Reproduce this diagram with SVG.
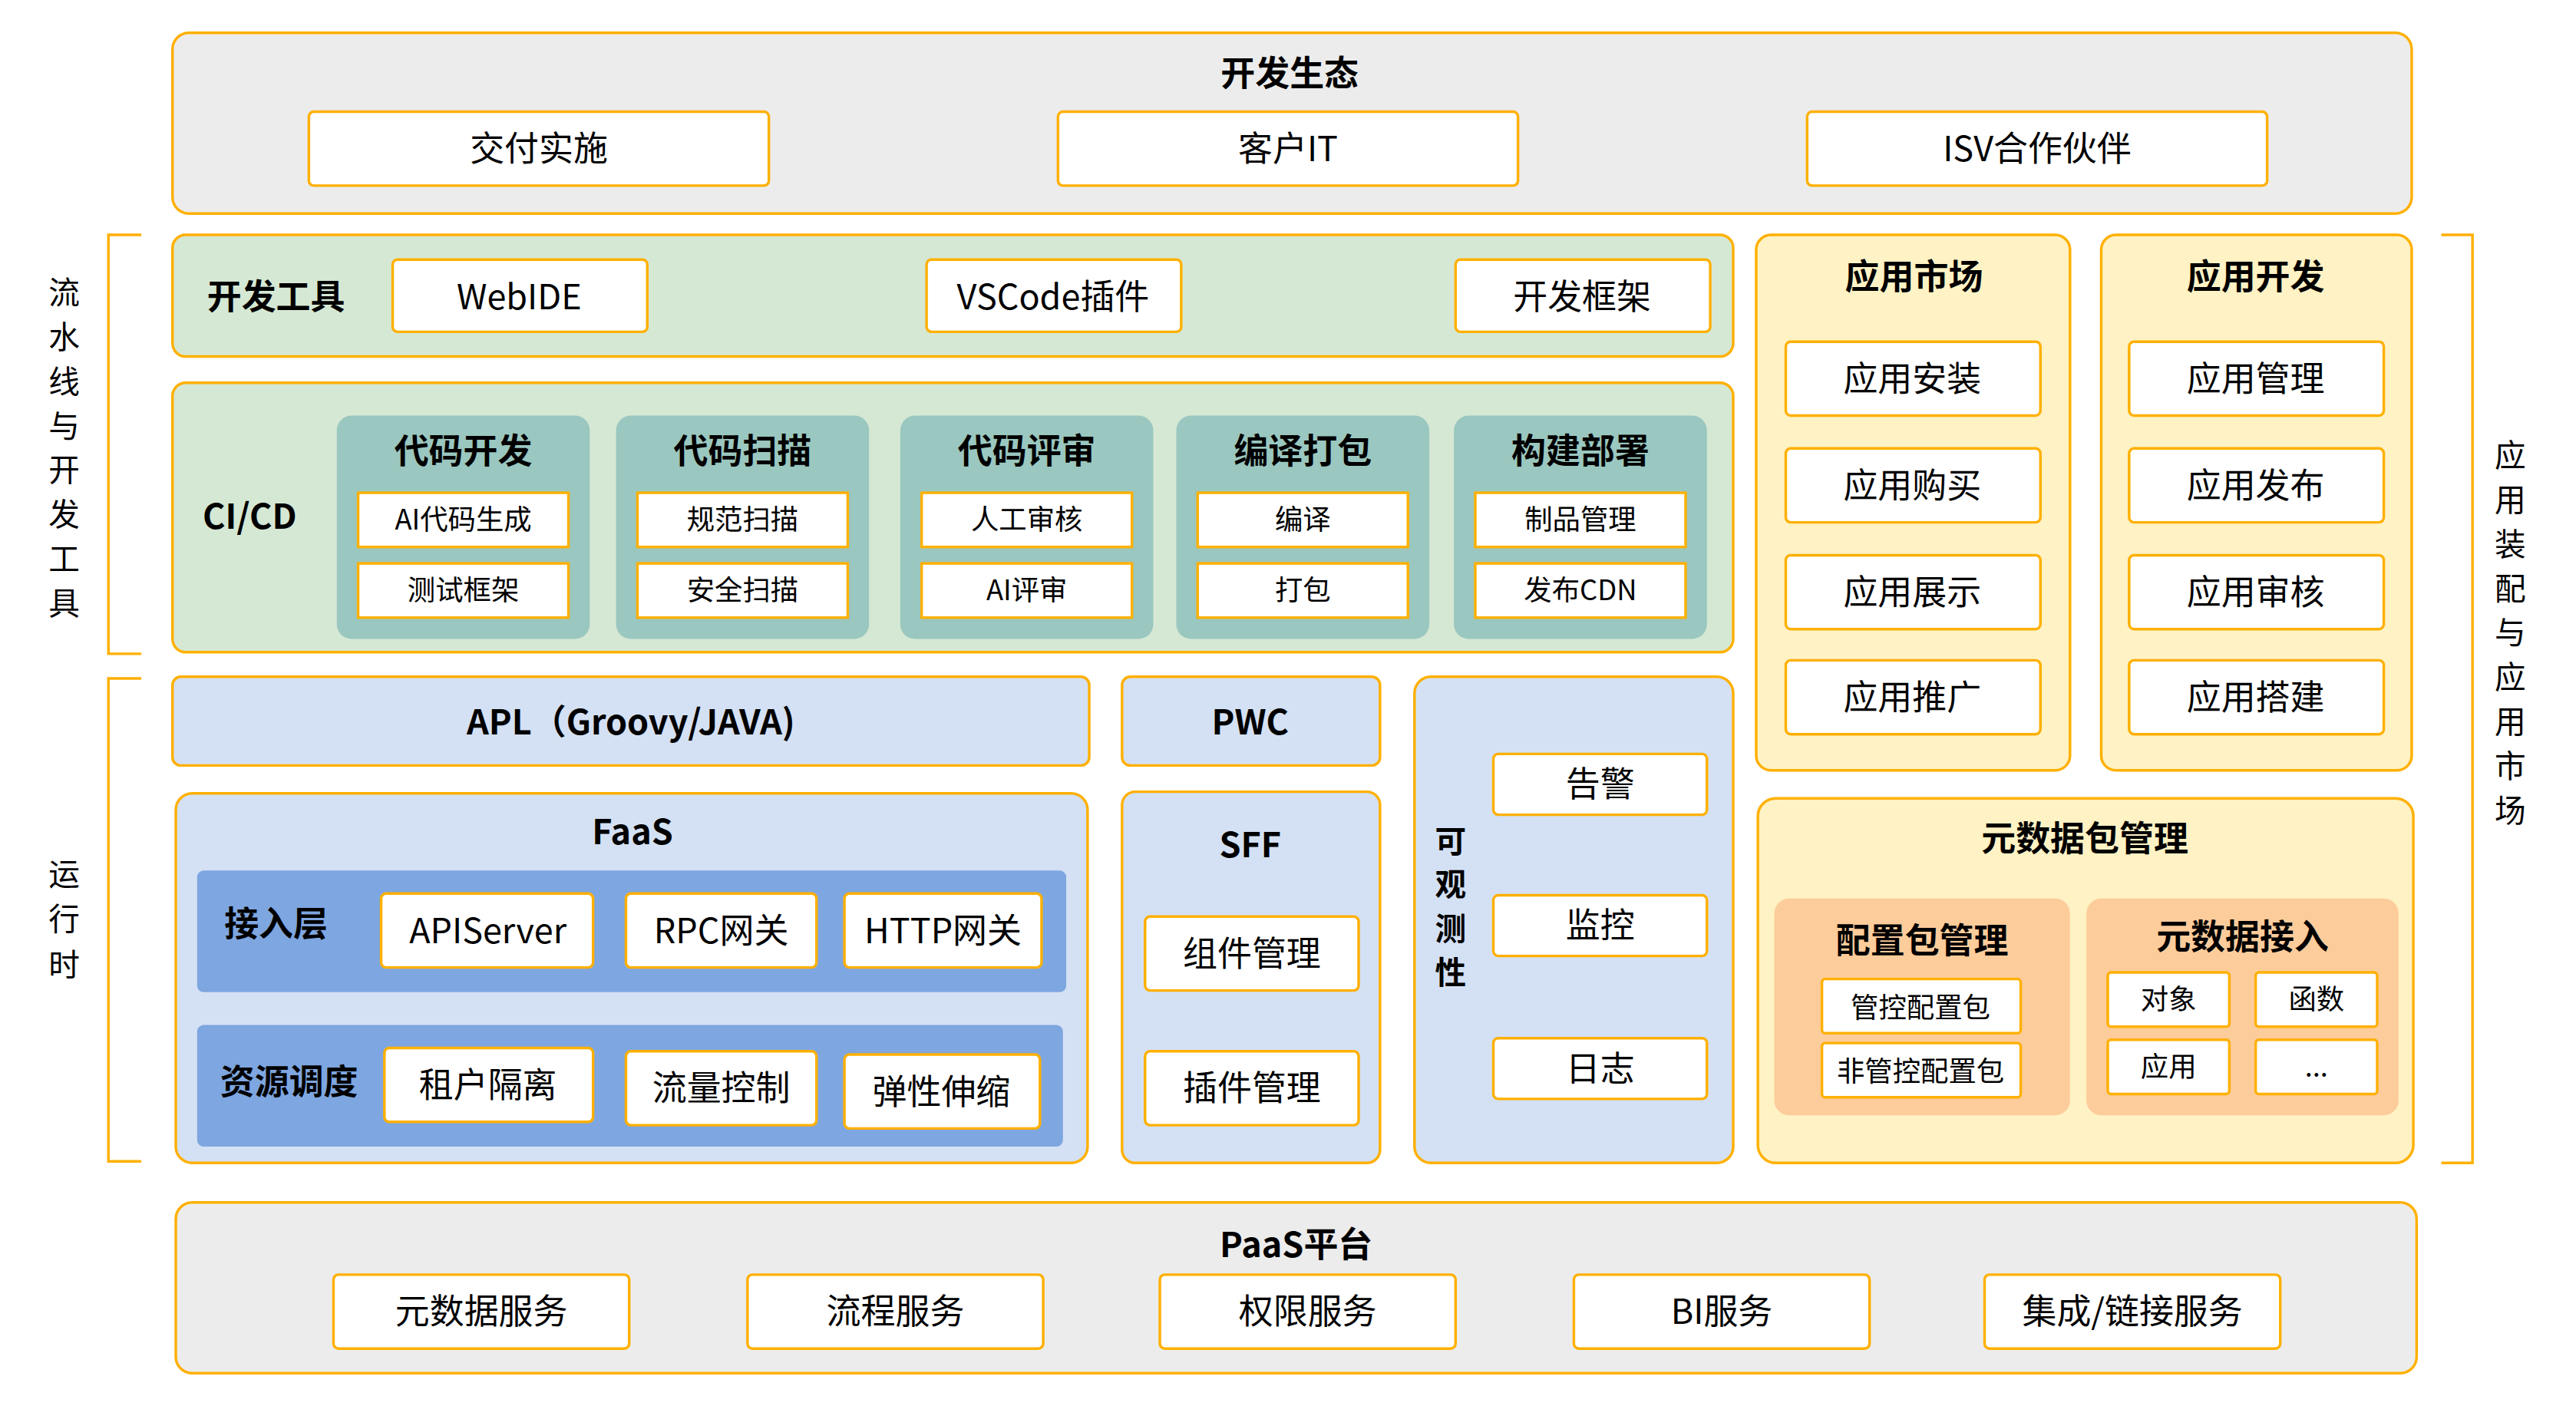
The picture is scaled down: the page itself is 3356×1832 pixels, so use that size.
<svg xmlns="http://www.w3.org/2000/svg" width="3356" height="1832" viewBox="0 0 3356 1832">
<style>
text{font-family:"Noto Sans CJK SC","Liberation Sans",sans-serif;text-anchor:middle;dominant-baseline:central;fill:#000}
.b{font-weight:bold;font-size:21px}
.t{font-size:21px}
.v{font-size:19px}
.vb{font-weight:bold;font-size:19px}
.s{font-size:17px}
rect{stroke:#ffb000;stroke-width:1.6}
.bg{fill:#fff;stroke:none}
.w{fill:#fff}
.g{fill:#ececec}
.gr{fill:#d5e8d4}
.bl{fill:#d4e1f4}
.y{fill:#fff2c4}
.tl{fill:#9ac7bf;stroke:none}
.db{fill:#7ea6e0;stroke:none}
.or{fill:#fdcc9b;stroke:none}
.br{fill:none;stroke:#ffb000;stroke-width:1.6}
</style>
<rect class="bg" x="0" y="0" width="3356" height="1832"/>
<g transform="scale(2.1403)">
<g id="brackets">
<path class="br" d="M86 143H66V398H86"/>
<path class="br" d="M86 413H66V707H86"/>
<path class="br" d="M1486 143H1505V708H1486"/>
<g class="v">
<text x="39" y="177">流</text><text x="39" y="204">水</text><text x="39" y="231">线</text><text x="39" y="258">与</text><text x="39" y="285">开</text><text x="39" y="312">发</text><text x="39" y="339">工</text><text x="39" y="366">具</text>
<text x="39" y="531">运</text><text x="39" y="558">行</text><text x="39" y="586">时</text>
<text x="1528" y="276">应</text><text x="1528" y="303">用</text><text x="1528" y="330">装</text><text x="1528" y="357">配</text><text x="1528" y="384">与</text><text x="1528" y="411">应</text><text x="1528" y="438">用</text><text x="1528" y="465">市</text><text x="1528" y="492">场</text>
</g>
</g>
<g id="eco">
<rect class="g" x="105" y="20" width="1363" height="110" rx="10"/>
<text class="b" x="785" y="43">开发生态</text>
<rect class="w" x="188" y="68" width="280" height="45" rx="3"/><text class="t" x="328" y="89">交付实施</text>
<rect class="w" x="644" y="68" width="280" height="45" rx="3"/><text class="t" x="784" y="89">客户IT</text>
<rect class="w" x="1100" y="68" width="280" height="45" rx="3"/><text class="t" x="1240" y="89">ISV合作伙伴</text>
</g>
<g id="devtools">
<rect class="gr" x="105" y="143" width="950" height="74" rx="8"/>
<text class="b" x="168" y="179">开发工具</text>
<rect class="w" x="239" y="158" width="155" height="44" rx="3"/><text class="t" x="316" y="179">WebIDE</text>
<rect class="w" x="564" y="158" width="155" height="44" rx="3"/><text class="t" x="641" y="179">VSCode插件</text>
<rect class="w" x="886" y="158" width="155" height="44" rx="3"/><text class="t" x="963" y="179">开发框架</text>
</g>
<g id="cicd">
<rect class="gr" x="105" y="233" width="950" height="164" rx="8"/>
<text class="b" x="152" y="313">CI/CD</text>
<rect class="tl" x="205" y="253" width="154" height="136" rx="9"/>
<rect class="tl" x="375" y="253" width="154" height="136" rx="9"/>
<rect class="tl" x="548" y="253" width="154" height="136" rx="9"/>
<rect class="tl" x="716" y="253" width="154" height="136" rx="9"/>
<rect class="tl" x="885" y="253" width="154" height="136" rx="9"/>
<text class="b" x="282" y="273">代码开发</text><text class="b" x="452" y="273">代码扫描</text><text class="b" x="625" y="273">代码评审</text><text class="b" x="793" y="273">编译打包</text><text class="b" x="962" y="273">构建部署</text>
<rect class="w" x="218" y="300" width="128" height="33"/><text class="s" x="282" y="315">AI代码生成</text>
<rect class="w" x="218" y="343" width="128" height="33"/><text class="s" x="282" y="358">测试框架</text>
<rect class="w" x="388" y="300" width="128" height="33"/><text class="s" x="452" y="315">规范扫描</text>
<rect class="w" x="388" y="343" width="128" height="33"/><text class="s" x="452" y="358">安全扫描</text>
<rect class="w" x="561" y="300" width="128" height="33"/><text class="s" x="625" y="315">人工审核</text>
<rect class="w" x="561" y="343" width="128" height="33"/><text class="s" x="625" y="358">AI评审</text>
<rect class="w" x="729" y="300" width="128" height="33"/><text class="s" x="793" y="315">编译</text>
<rect class="w" x="729" y="343" width="128" height="33"/><text class="s" x="793" y="358">打包</text>
<rect class="w" x="898" y="300" width="128" height="33"/><text class="s" x="962" y="315">制品管理</text>
<rect class="w" x="898" y="343" width="128" height="33"/><text class="s" x="962" y="358">发布CDN</text>
</g>
<g id="apl">
<rect class="bl" x="105" y="412" width="558" height="54" rx="5"/>
<text class="b" x="384" y="438">APL（Groovy/JAVA)</text>
</g>
<g id="pwc">
<rect class="bl" x="683" y="412" width="157" height="54" rx="5"/>
<text class="b" x="761" y="438">PWC</text>
</g>
<g id="sff">
<rect class="bl" x="683" y="482" width="157" height="226" rx="8"/>
<text class="b" x="761" y="513">SFF</text>
<rect class="w" x="697" y="558" width="130" height="45" rx="3"/><text class="t" x="762" y="579">组件管理</text>
<rect class="w" x="697" y="640" width="130" height="45" rx="3"/><text class="t" x="762" y="661">插件管理</text>
</g>
<g id="obs">
<rect class="bl" x="861" y="412" width="194" height="296" rx="10"/>
<text class="vb" x="883" y="511">可</text><text class="vb" x="883" y="537">观</text><text class="vb" x="883" y="564">测</text><text class="vb" x="883" y="591">性</text>
<rect class="w" x="909" y="459" width="130" height="37" rx="3"/><text class="t" x="974" y="476">告警</text>
<rect class="w" x="909" y="545" width="130" height="37" rx="3"/><text class="t" x="974" y="562">监控</text>
<rect class="w" x="909" y="632" width="130" height="37" rx="3"/><text class="t" x="974" y="649">日志</text>
</g>
<g id="faas">
<rect class="bl" x="107" y="483" width="555" height="225" rx="10"/>
<text class="b" x="385" y="505">FaaS</text>
<rect class="db" x="120" y="530" width="529" height="74" rx="4"/>
<text class="b" x="168" y="561">接入层</text>
<rect class="w" x="232" y="544" width="129" height="45" rx="3"/><text class="t" x="297" y="565">APIServer</text>
<rect class="w" x="381" y="544" width="116" height="45" rx="3"/><text class="t" x="439" y="565">RPC网关</text>
<rect class="w" x="514" y="544" width="120" height="45" rx="3"/><text class="t" x="574" y="565">HTTP网关</text>
<rect class="db" x="120" y="624" width="527" height="74" rx="4"/>
<text class="b" x="176" y="657">资源调度</text>
<rect class="w" x="234" y="638" width="127" height="45" rx="3"/><text class="t" x="297" y="659">租户隔离</text>
<rect class="w" x="381" y="640" width="116" height="45" rx="3"/><text class="t" x="439" y="661">流量控制</text>
<rect class="w" x="514" y="642" width="119" height="45" rx="3"/><text class="t" x="573" y="663">弹性伸缩</text>
</g>
<g id="market">
<rect class="y" x="1069" y="143" width="191" height="326" rx="9"/>
<text class="b" x="1165" y="167">应用市场</text>
<rect class="w" x="1087" y="208" width="155" height="45" rx="3"/><text class="t" x="1164" y="229">应用安装</text>
<rect class="w" x="1087" y="273" width="155" height="45" rx="3"/><text class="t" x="1164" y="294">应用购买</text>
<rect class="w" x="1087" y="338" width="155" height="45" rx="3"/><text class="t" x="1164" y="359">应用展示</text>
<rect class="w" x="1087" y="402" width="155" height="45" rx="3"/><text class="t" x="1164" y="423">应用推广</text>
</g>
<g id="appdev">
<rect class="y" x="1279" y="143" width="189" height="326" rx="9"/>
<text class="b" x="1373" y="167">应用开发</text>
<rect class="w" x="1296" y="208" width="155" height="45" rx="3"/><text class="t" x="1373" y="229">应用管理</text>
<rect class="w" x="1296" y="273" width="155" height="45" rx="3"/><text class="t" x="1373" y="294">应用发布</text>
<rect class="w" x="1296" y="338" width="155" height="45" rx="3"/><text class="t" x="1373" y="359">应用审核</text>
<rect class="w" x="1296" y="402" width="155" height="45" rx="3"/><text class="t" x="1373" y="423">应用搭建</text>
</g>
<g id="meta">
<rect class="y" x="1070" y="486" width="399" height="222" rx="11"/>
<text class="b" x="1269" y="509">元数据包管理</text>
<rect class="or" x="1080" y="547" width="180" height="132" rx="9"/>
<text class="b" x="1170" y="571">配置包管理</text>
<rect class="w" x="1109" y="596" width="121" height="33" rx="2"/><text class="s" x="1169" y="612">管控配置包</text>
<rect class="w" x="1109" y="635" width="121" height="33" rx="2"/><text class="s" x="1169" y="651">非管控配置包</text>
<rect class="or" x="1270" y="547" width="190" height="132" rx="9"/>
<text class="b" x="1365" y="569">元数据接入</text>
<rect class="w" x="1283" y="592" width="74" height="33" rx="2"/><text class="s" x="1320" y="607">对象</text>
<rect class="w" x="1373" y="592" width="74" height="33" rx="2"/><text class="s" x="1410" y="607">函数</text>
<rect class="w" x="1283" y="633" width="74" height="33" rx="2"/><text class="s" x="1320" y="648">应用</text>
<rect class="w" x="1373" y="633" width="74" height="33" rx="2"/><text class="s" x="1410" y="648">...</text>
</g>
<g id="paas">
<rect class="g" x="107" y="732" width="1364" height="104" rx="10"/>
<text class="b" x="789" y="756">PaaS平台</text>
<rect class="w" x="203" y="776" width="180" height="45" rx="3"/><text class="t" x="293" y="797">元数据服务</text>
<rect class="w" x="455" y="776" width="180" height="45" rx="3"/><text class="t" x="545" y="797">流程服务</text>
<rect class="w" x="706" y="776" width="180" height="45" rx="3"/><text class="t" x="796" y="797">权限服务</text>
<rect class="w" x="958" y="776" width="180" height="45" rx="3"/><text class="t" x="1048" y="797">BI服务</text>
<rect class="w" x="1208" y="776" width="180" height="45" rx="3"/><text class="t" x="1298" y="797">集成/链接服务</text>
</g>
<g id="connectors"></g>
</g>
</svg>
